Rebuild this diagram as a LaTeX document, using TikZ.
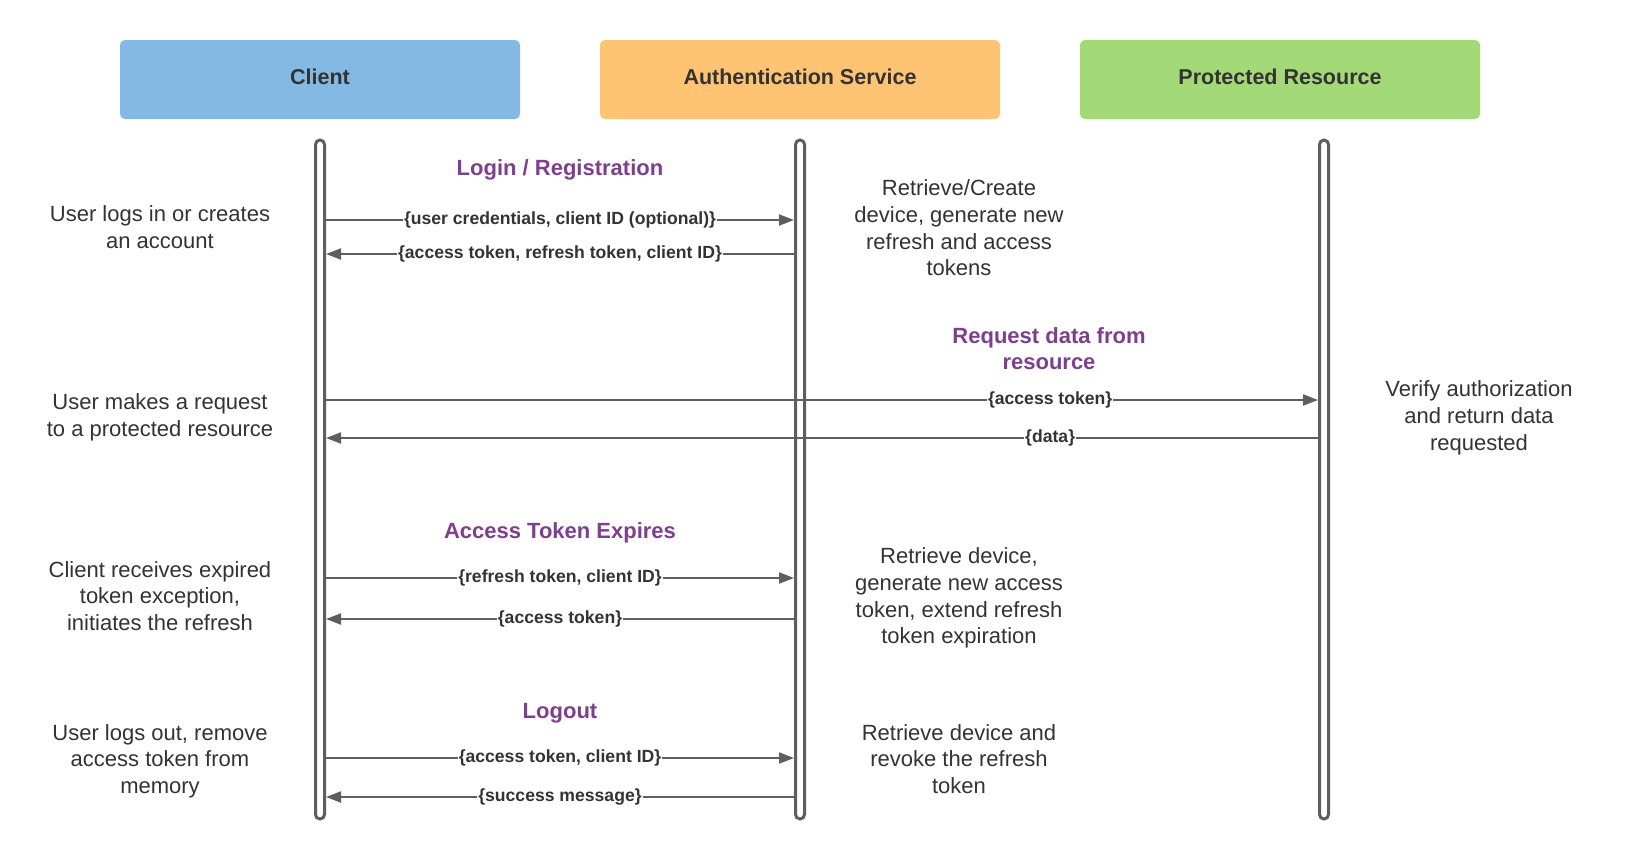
\documentclass[tikz,border=0pt]{standalone}
\usepackage{fontspec}
\setmainfont{Liberation Sans}
\usetikzlibrary{arrows.meta}
\definecolor{cblue}{HTML}{83B9E3}
\definecolor{corange}{HTML}{FFC374}
\definecolor{cgreen}{HTML}{A3D977}
\definecolor{cpurple}{HTML}{7E3F8E}
\definecolor{ctext}{HTML}{333333}
\definecolor{cline}{HTML}{5E5E5E}
\begin{document}
\begin{tikzpicture}[x=1pt,y=-1pt,
 header/.style={rounded corners=5pt, minimum width=400pt, minimum height=79pt, inner sep=0pt},
 headtext/.style={font=\fontsize{21.5}{26}\selectfont\bfseries, text=ctext, yshift=3pt},
 lifeline/.style={draw=cline, line width=3pt, fill=white, rounded corners=4.5pt, minimum width=9pt, minimum height=679pt, inner sep=0pt},
 msg/.style={draw=cline, line width=2pt, -{Triangle[length=15pt,width=11pt]}},
 msglabel/.style={fill=white, inner sep=1pt, text=ctext, font=\fontsize{17.6}{20}\selectfont\bfseries},
 sectitle/.style={text=cpurple, font=\fontsize{22}{26.7}\selectfont\bfseries, align=center},
 note/.style={text=ctext, font=\fontsize{22}{26.7}\selectfont, align=center},
]
\useasboundingbox[fill=white] (0,0) rectangle (1640,860);

% headers
\node[header, fill=cblue] (hc) at (320,79.5) {};
\node[header, fill=corange] (ha) at (800,79.5) {};
\node[header, fill=cgreen] (hp) at (1280,79.5) {};
\node[headtext] (hct) at (hc.center) {Client};
\node[headtext] (hat) at (ha.center) {Authentication Service};
\node[headtext] (hpt) at (hp.center) {Protected Resource};

% lifelines
\node[lifeline] (cl) at (320,479.5) {};
\node[lifeline] (au) at (800,479.5) {};
\node[lifeline] (pr) at (1324,479.5) {};

% section titles
\node[sectitle] (t1) at (560,170) {Login / Registration};
\node[sectitle] (t2) at (1049,348.5) {Request data from\\resource};
\node[sectitle] (t3) at (560,533) {Access Token Expires};
\node[sectitle] (t4) at (560,713) {Logout};

% left notes
\node[note] (n1) at (160,227) {User logs in or creates\\an account};
\node[note] (n2) at (160,417.5) {User makes a request\\to a protected resource};
\node[note] (n3) at (160,596) {Client receives expired\\token exception,\\initiates the refresh};
\node[note] (n4) at (160,761) {User logs out, remove\\access token from\\memory};

% right notes
\node[note] (r1) at (959,228) {Retrieve/Create\\device, generate new\\refresh and access\\tokens};
\node[note] (r2) at (1479,418) {Verify authorization\\and return data\\requested};
\node[note] (r3) at (959,598) {Retrieve device,\\generate new access\\token, extend refresh\\token expiration};
\node[note] (r4) at (959,759) {Retrieve device and\\revoke the refresh\\token};

% messages
\draw[msg] (cl.east |- 0,220) -- node[msglabel] {\{user credentials, client ID (optional)\}} (au.west |- 0,220);
\draw[msg] (au.west |- 0,254) -- node[msglabel] {\{access token, refresh token, client ID\}} (cl.east |- 0,254);
\draw[msg] (cl.east |- 0,400) -- node[msglabel, pos=0.73] {\{access token\}} (pr.west |- 0,400);
\draw[msg] (pr.west |- 0,438) -- node[msglabel, pos=0.27] {\{data\}} (cl.east |- 0,438);
\draw[msg] (cl.east |- 0,578) -- node[msglabel] {\{refresh token, client ID\}} (au.west |- 0,578);
\draw[msg] (au.west |- 0,619) -- node[msglabel] {\{access token\}} (cl.east |- 0,619);
\draw[msg] (cl.east |- 0,758) -- node[msglabel] {\{access token, client ID\}} (au.west |- 0,758);
\draw[msg] (au.west |- 0,797) -- node[msglabel] {\{success message\}} (cl.east |- 0,797);
\end{tikzpicture}
\end{document}
